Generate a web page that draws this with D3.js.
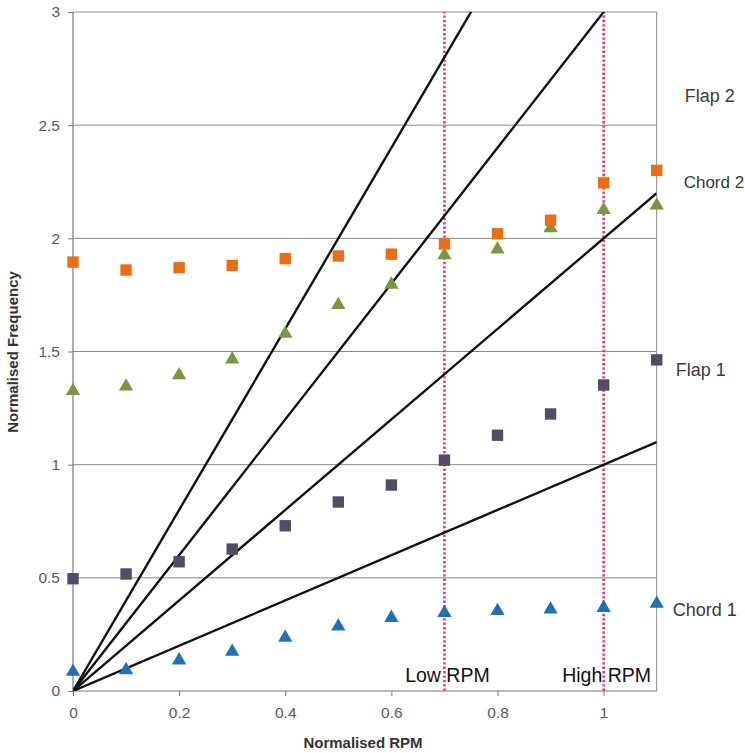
<!DOCTYPE html>
<html>
<head>
<meta charset="utf-8">
<script src="https://cdn.jsdelivr.net/npm/d3@7"></script>
<style>
  html, body { margin: 0; padding: 0; background: #fff; }
  svg { display: block; font-family: "Liberation Sans", Arial, sans-serif; }
</style>
</head>
<body>
<svg id="chart" width="745" height="753"></svg>
<script>
// Normalised rotor speed (x) at which each mode frequency was evaluated
const rpm = [0, 0.1, 0.2, 0.3, 0.4, 0.5, 0.6, 0.7, 0.8, 0.9, 1.0, 1.1];

// Normalised natural frequencies of each blade mode
const chord1 = [0.09, 0.097, 0.14, 0.178, 0.24, 0.29, 0.328, 0.35, 0.358, 0.365, 0.372, 0.39];
const flap1  = [0.496, 0.517, 0.571, 0.627, 0.73, 0.835, 0.91, 1.02, 1.13, 1.224, 1.352, 1.463];
const flap2  = [1.33, 1.35, 1.40, 1.47, 1.583, 1.71, 1.80, 1.93, 1.956, 2.05, 2.13, 2.15];
const chord2 = [1.895, 1.86, 1.87, 1.88, 1.91, 1.922, 1.93, 1.975, 2.02, 2.08, 2.245, 2.30];

// Per-rev excitation lines (frequency = n x RPM)
const harmonics = [1, 2, 3, 4];

// Operating-speed markers
const rpmMarkers = [0.7, 1.0];
const rpmMarkerLabels = ["Low RPM", "High RPM"];

// Axis ticks
const xTicks = [0, 0.2, 0.4, 0.6, 0.8, 1];
const yTicks = [0, 0.5, 1, 1.5, 2, 2.5, 3];

// Mode labels at the right of the plot
const modeLabels = ["Flap 2", "Chord 2", "Flap 1", "Chord 1"];
const modeLabelLevels = [2.63, 2.25, 1.42, 0.36];
const modeLabelOffsets = [28, 27, 19, 16];

const svg = d3.select("#chart");
const x = d3.scaleLinear().domain([0, 1.1]).range([73, 656.7]);
const y = d3.scaleLinear().domain([0, 3]).range([691, 12]);

const gridColor = "#8a8a8a";

// Horizontal gridlines
svg.append("g")
  .selectAll("line")
  .data(yTicks.filter(d => d > 0))
  .join("line")
  .attr("x1", x(0)).attr("x2", x(1.1))
  .attr("y1", d => y(d)).attr("y2", d => y(d))
  .attr("stroke", gridColor).attr("stroke-width", 1);

// Right border of the plot area
svg.append("line")
  .attr("x1", x(1.1)).attr("x2", x(1.1))
  .attr("y1", y(0)).attr("y2", y(3))
  .attr("stroke", gridColor).attr("stroke-width", 1);

// Axes
const xAxis = d3.axisBottom(x).tickValues(xTicks).tickSize(5).tickPadding(11)
  .tickFormat(d => d3.format("")(d));
const yAxis = d3.axisLeft(y).tickValues(yTicks).tickSize(5).tickPadding(8)
  .tickFormat(d => d3.format("")(d));

const gx = svg.append("g").attr("transform", `translate(0,${y(0)})`).call(xAxis);
const gy = svg.append("g").attr("transform", `translate(${x(0)},0)`).call(yAxis);
[gx, gy].forEach(g => {
  g.select(".domain").attr("stroke", "#777").attr("stroke-width", 1.2);
  g.selectAll(".tick line").attr("stroke", "#777");
  g.selectAll(".tick text").attr("fill", "#5a5a5a").attr("font-size", 15.5)
    .attr("font-family", "'Liberation Sans', Arial, sans-serif");
});
gx.select(".domain").attr("d", `M${x(0)},0H${x(1.1)}`);
gy.select(".domain").attr("d", `M0,${y(0)}V${y(3)}`);

// Operating-speed markers (dotted)
svg.append("g")
  .selectAll("line")
  .data(rpmMarkers)
  .join("line")
  .attr("x1", d => x(d)).attr("x2", d => x(d))
  .attr("y1", y(0)).attr("y2", y(3))
  .attr("stroke", "#f2356e").attr("stroke-width", 2.6)
  .attr("stroke-dasharray", "2.4,2");

// Per-rev lines clipped to the plot area
svg.append("clipPath").attr("id", "plotClip")
  .append("rect")
  .attr("x", x(0)).attr("y", y(3))
  .attr("width", x(1.1) - x(0)).attr("height", y(0) - y(3));

svg.append("g").attr("clip-path", "url(#plotClip)")
  .selectAll("line")
  .data(harmonics)
  .join("line")
  .attr("x1", x(0)).attr("y1", y(0))
  .attr("x2", x(1.1)).attr("y2", n => y(n * 1.1))
  .attr("stroke", "#111").attr("stroke-width", 2.4);

// Mode markers
const squareSym = d3.symbol().type(d3.symbolSquare).size(130);
const triSym = d3.symbol().type(d3.symbolTriangle).size(88);

const series = [
  { values: flap2,  color: "#7a9640", sym: triSym, dy: 1 },
  { values: chord2, color: "#ec6d12", sym: squareSym, dy: 0 },
  { values: flap1,  color: "#514d66", sym: squareSym, dy: 0 },
  { values: chord1, color: "#1f70b6", sym: triSym, dy: 1 }
];

series.forEach(s => {
  svg.append("g")
    .selectAll("path")
    .data(s.values)
    .join("path")
    .attr("d", s.sym)
    .attr("transform", (v, i) => `translate(${x(rpm[i])},${y(v) + s.dy})`)
    .attr("fill", s.color);
});

// Operating-speed labels
svg.append("g")
  .selectAll("text")
  .data(rpmMarkers)
  .join("text")
  .attr("x", d => x(d) + 3)
  .attr("y", 682)
  .attr("text-anchor", "middle")
  .attr("font-size", 19.5)
  .attr("fill", "#111")
  .text((d, i) => rpmMarkerLabels[i]);

// Mode labels
svg.append("g")
  .selectAll("text")
  .data(modeLabels)
  .join("text")
  .attr("x", (d, i) => x(1.1) + modeLabelOffsets[i])
  .attr("y", (d, i) => y(modeLabelLevels[i]))
  .attr("dy", "0.35em")
  .attr("font-size", (d, i) => i === 1 ? 17 : 18)
  .attr("fill", "#3a3a3a")
  .text(d => d);

// Axis titles
svg.append("text")
  .attr("x", 363).attr("y", 748)
  .attr("text-anchor", "middle")
  .attr("font-size", 15).attr("font-weight", "bold")
  .attr("fill", "#333")
  .text("Normalised RPM");

svg.append("text")
  .attr("transform", "translate(18,352) rotate(-90)")
  .attr("text-anchor", "middle")
  .attr("font-size", 15).attr("font-weight", "bold")
  .attr("fill", "#333")
  .text("Normalised Frequency");
</script>
</body>
</html>
